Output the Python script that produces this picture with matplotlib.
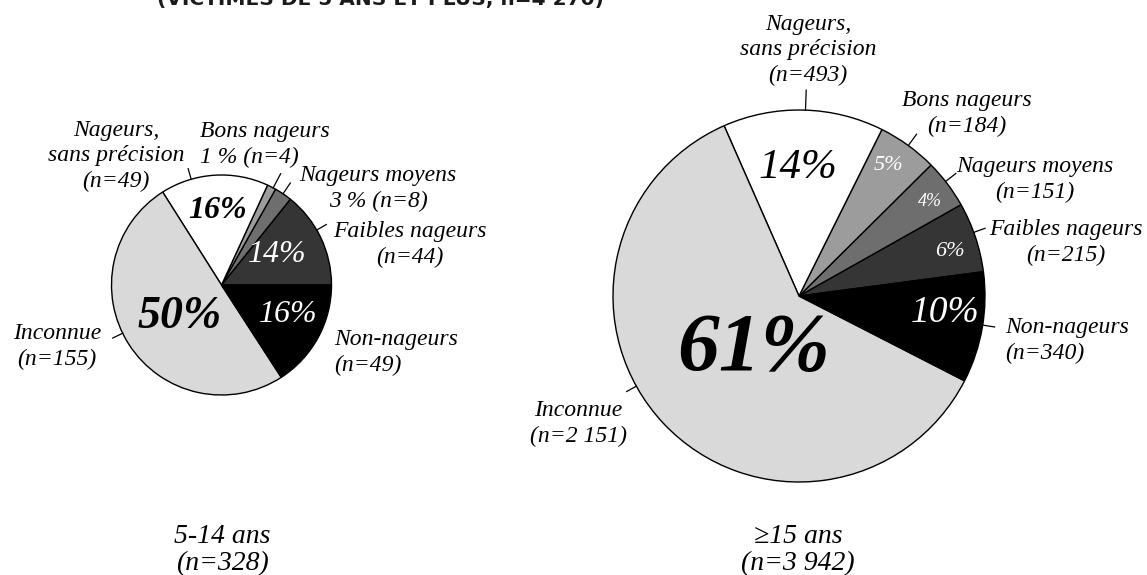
import numpy as np
import matplotlib
matplotlib.use("Agg")
import matplotlib.pyplot as plt

# Data
categories = ["Faibles nageurs", "Nageurs moyens", "Bons nageurs",
              "Nageurs,\nsans précision", "Inconnue", "Non-nageurs"]
n_5_14 = [44, 8, 4, 49, 155, 49]
n_15_plus = [215, 151, 184, 493, 2151, 340]
group_names = ["5-14 ans", "≥15 ans"]
group_totals = [328, 3942]
title = "(VICTIMES DE 5 ANS ET PLUS, n=4 270)"

colors = ["#353535", "#6e6e6e", "#9c9c9c", "#ffffff", "#d9d9d9", "#000000"]

SERIF = ["Liberation Serif", "DejaVu Serif"]


def fmt_n(v):
    return f"{v:,}".replace(",", " ")


# Layout for each pie (pixel coordinates, y downwards)
layouts = [
    dict(values=n_5_14, center=(221.5, 285), radius=110, start=0,
         # inside percentage labels: (x, y, size, colour, weight) or None
         pct=[(277, 255, 23, "white", "normal"), None, None,
              (218, 210, 23, "black", "bold"),
              (180, 317, 33, "black", "bold"),
              (288, 315, 23, "white", "normal")],
         # outside labels: (x, y, ha, leader angle, leader length, with pct)
         outer=[(410, 245, "center", 30, 11, False),
                (378, 189, "center", 56, 13, True),
                (200, 145, "left", 62, 16, True),
                (116, 156, "center", 106, 11, False),
                (57, 347, "center", 206, 11, False),
                (334, 353, "left", None, 0, False)],
         caption=(222, 550)),
    dict(values=n_15_plus, center=(799, 296), radius=186, start=7.5,
         pct=[(950, 252, 16, "white", "normal"),
              (930, 202, 13, "white", "normal"),
              (888, 166, 16, "white", "normal"),
              (798, 168, 31, "black", "normal"),
              (754, 350, 60, "black", "bold"),
              (945, 313, 27, "white", "normal")],
         outer=[(1066, 243, "center", 20, 12, False),
                (1035, 180, "center", 38, 13, False),
                (967, 114, "center", 54, 14, False),
                (808, 50, "center", 88, 20, False),
                (578, 424, "center", 209, 11, False),
                (1005, 341, "left", -9, 12, False)],
         caption=(798, 550)),
]

fig = plt.figure(figsize=(11.47, 5.75), dpi=100)
ax = fig.add_axes([0, 0, 1, 1])

for k, lay in enumerate(layouts):
    vals = np.array(lay["values"], dtype=float)
    cx, cy = lay["center"]
    r = lay["radius"]
    # y axis points down, so draw clockwise in data space to look counter-clockwise
    ax.pie(vals, colors=colors, center=(cx, cy), radius=r,
           startangle=-lay["start"], counterclock=False,
           wedgeprops=dict(edgecolor="black", linewidth=1.0))
    pcts = np.round(vals / vals.sum() * 100).astype(int)

    for i, p in enumerate(lay["pct"]):
        if p is None:
            continue
        x, y, size, col, weight = p
        ax.text(x, y, f"{pcts[i]}%", ha="center", va="center", fontsize=size,
                color=col, fontstyle="italic", fontweight=weight, family=SERIF)

    for i, (x, y, ha, ang, length, with_pct) in enumerate(lay["outer"]):
        if with_pct:
            label = f"{categories[i]}\n{pcts[i]} % (n={fmt_n(lay['values'][i])})"
        else:
            label = f"{categories[i]}\n(n={fmt_n(lay['values'][i])})"
        ax.text(x, y, label, ha=ha, va="center", multialignment=ha,
                fontsize=17, fontstyle="italic", family=SERIF, linespacing=1.3)
        if ang is not None:
            a = np.deg2rad(ang)
            xs = [cx + r * np.cos(a), cx + (r + length) * np.cos(a)]
            ys = [cy - r * np.sin(a), cy - (r + length) * np.sin(a)]
            ax.plot(xs, ys, color="black", linewidth=0.9)

    capx, capy = lay["caption"]
    ax.text(capx, capy, f"{group_names[k]}\n(n={fmt_n(group_totals[k])})",
            ha="center", va="center", fontsize=20, fontstyle="italic",
            family=SERIF, linespacing=1.1)

# title, cut off at the top of the picture as in the source
ax.text(157, 5.5, title, ha="left", va="baseline", fontsize=14.5,
        fontweight="bold", family="DejaVu Sans", color="#1a1a1a")

ax.set_xlim(0, 1147)
ax.set_ylim(575, 0)
ax.set_aspect("equal")
ax.axis("off")

fig.savefig("out.png", dpi=100, facecolor="white")
